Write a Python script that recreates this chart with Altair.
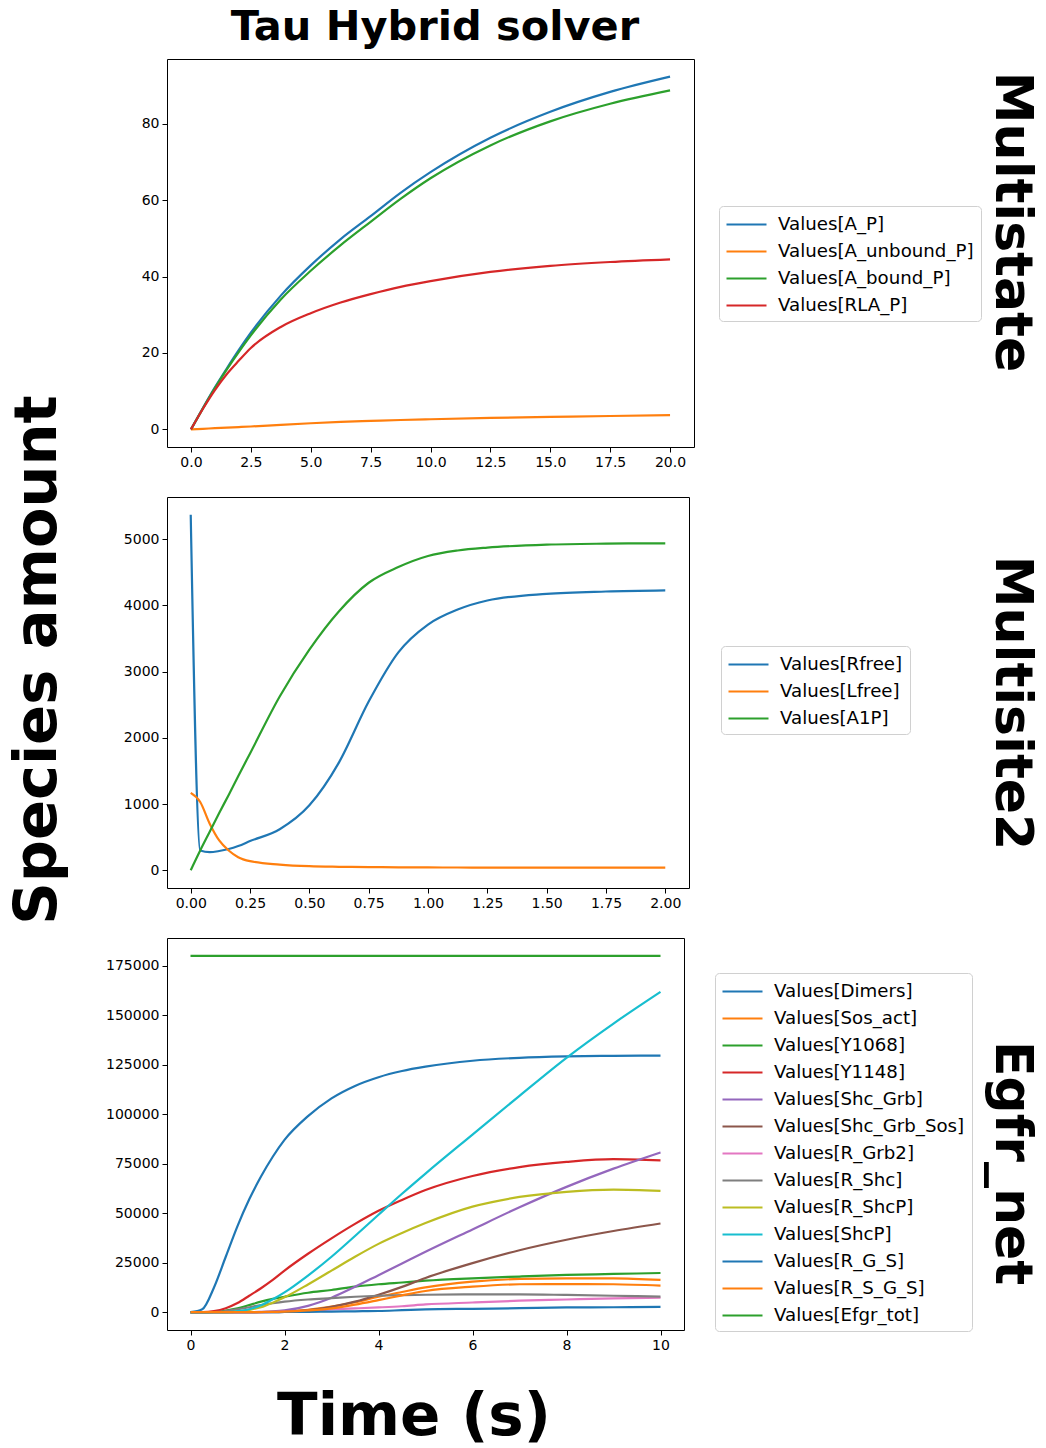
import altair as alt
import pandas as pd

TAB10 = ["#1f77b4", "#ff7f0e", "#2ca02c", "#d62728", "#9467bd",
         "#8c564b", "#e377c2", "#7f7f7f", "#bcbd22", "#17becf"]

# ---------------- Panel 1: Multistate ----------------
t1 = [0, 0.5, 1, 1.5, 2, 2.5, 3.75, 5, 6.25, 7.5, 8.75, 10, 12.5, 15, 17.5, 20]
ms_names = ["Values[A_P]", "Values[A_unbound_P]", "Values[A_bound_P]", "Values[RLA_P]"]
ms_A_P = [0, 5.6, 11.0, 16.0, 20.8, 25.3, 35.0, 42.9, 49.8, 55.8, 61.9, 67.3, 76.3, 83.1, 88.3, 92.3]
ms_A_unbound_P = [0, 0.15, 0.3, 0.45, 0.6, 0.75, 1.2, 1.6, 1.95, 2.2, 2.45, 2.65, 3.0, 3.25, 3.5, 3.7]
ms_A_bound_P = [0, 5.5, 10.8, 15.7, 20.3, 24.6, 34.0, 41.5, 48.2, 54.3, 60.3, 65.7, 74.3, 80.6, 85.2, 88.7]
ms_RLA_P = [0, 5.4, 10.3, 14.5, 18.0, 21.3, 26.8, 30.4, 33.2, 35.4, 37.3, 38.8, 41.2, 42.8, 43.8, 44.5]
ms_xticks = [0, 2.5, 5, 7.5, 10, 12.5, 15, 17.5, 20]
ms_yticks = [0, 20, 40, 60, 80]

# ---------------- Panel 2: Multisite2 ----------------
t2 = [0, 0.04, 0.08, 0.12, 0.16, 0.2, 0.25, 0.375, 0.5, 0.625, 0.75, 0.875,
      1.0, 1.125, 1.25, 1.5, 1.75, 2.0]
m2_names = ["Values[Rfree]", "Values[Lfree]", "Values[A1P]"]
m2_Rfree = [5370, 298, 273, 290, 320, 365, 440, 620, 981, 1630, 2548, 3291,
            3711, 3938, 4075, 4176, 4211, 4227]
m2_Lfree = [1168, 1031, 703, 450, 298, 197, 137, 86, 61, 52, 47, 44,
            42, 41, 40, 40, 40, 40]
m2_A1P = [0, 298, 581, 865, 1138, 1420, 1764, 2624, 3332, 3913, 4343, 4580,
          4747, 4830, 4874, 4919, 4934, 4939]
m2_xticks = [0, 0.25, 0.5, 0.75, 1.0, 1.25, 1.5, 1.75, 2.0]
m2_yticks = [0, 1000, 2000, 3000, 4000, 5000]

# ---------------- Panel 3: Egfr_net ----------------
t3 = [0, 0.25, 0.5, 0.75, 1, 1.25, 1.5, 1.75, 2, 2.5, 3, 3.5, 4, 4.5, 5, 6, 7, 8, 9, 10]
eg_names = ["Values[Dimers]", "Values[Sos_act]", "Values[Y1068]", "Values[Y1148]",
            "Values[Shc_Grb]", "Values[Shc_Grb_Sos]", "Values[R_Grb2]", "Values[R_Shc]",
            "Values[R_ShcP]", "Values[ShcP]", "Values[R_G_S]", "Values[R_S_G_S]",
            "Values[Efgr_tot]"]
eg_Dimers = [0, 1500, 12500, 28000, 43500, 57000, 68500, 78500, 87000, 99000, 108000,
             114300, 118700, 121800, 124000, 127000, 128500, 129200, 129500, 129600]
eg_Sos_act = [0, 0, 0, 0, 0, 0, 100, 200, 400, 1200, 2800, 5000, 7800, 10200, 12500,
              15400, 16800, 17100, 17100, 16300]
eg_Y1068 = [0, 0, 100, 800, 1900, 3600, 5300, 6700, 7800, 9800, 11200, 12900, 14100,
            15000, 15900, 17100, 18000, 18800, 19300, 19800]
eg_Y1148 = [0, 0, 500, 2000, 4600, 8300, 12100, 16300, 21000, 29500, 37300, 44600,
            51200, 56700, 61700, 68800, 73300, 75900, 77300, 76700]
eg_Shc_Grb = [0, 0, 0, 0, 0, 0, 150, 400, 900, 3200, 7300, 12800, 18700, 24600, 30500,
              41800, 53000, 63300, 72500, 80700]
eg_Shc_Grb_Sos = [0, 0, 0, 0, 0, 0, 0, 50, 200, 1000, 2700, 5300, 8800, 12800, 17300,
                  24800, 31300, 36600, 41000, 44800]
eg_R_Grb2 = [0, 0, 0, 0, 0, 0, 0, 100, 300, 700, 1400, 1900, 2400, 3000, 3900, 4900,
             5800, 6400, 7000, 7300]
eg_R_Shc = [0, 0, 100, 600, 1400, 2500, 3600, 4500, 5300, 6400, 7100, 7800, 8300, 8600,
            8800, 9000, 9000, 8700, 8300, 7900]
eg_R_ShcP = [0, 0, 0, 0, 300, 1200, 2500, 4800, 7500, 14000, 21000, 28000, 34500, 40000,
             45000, 53300, 58200, 60800, 61900, 61300]
eg_ShcP = [0, 0, 0, 0, 500, 1500, 3500, 6500, 10000, 18500, 28000, 38500, 49200, 59800,
           70000, 89700, 109300, 128500, 145800, 161800]
eg_R_G_S = [0, 0, 0, 0, 0, 0, 0, 50, 100, 200, 300, 450, 600, 1000, 1400, 1700, 2000,
            2400, 2500, 2700]
eg_R_S_G_S = [0, 0, 0, 0, 0, 0, 50, 150, 300, 900, 1900, 3800, 6100, 8500, 10700, 12900,
              14100, 14200, 14100, 13400]
eg_Efgr_tot = [180000, 180000, 180000, 180000, 180000, 180000, 180000, 180000, 180000,
               180000, 180000, 180000, 180000, 180000, 180000, 180000, 180000, 180000,
               180000, 180000]
eg_xticks = [0, 2, 4, 6, 8, 10]
eg_yticks = [0, 25000, 50000, 75000, 100000, 125000, 150000, 175000]

FONT = "DejaVu Sans"


def long_df(t, names, series):
    rows = []
    for k, (name, vals) in enumerate(zip(names, series)):
        for ti, v in zip(t, vals):
            rows.append({"time": ti, "value": v, "series": name, "k": k})
    return pd.DataFrame(rows)


def pad_domain(series):
    lo = min(min(s) for s in series)
    hi = max(max(s) for s in series)
    m = 0.05 * (hi - lo)
    return [lo - m, hi + m]


def text_layer(label, x, y, size, angle=0, baseline="middle"):
    kw = dict(fontSize=size, fontWeight="bold", font=FONT, align="center",
              baseline=baseline, color="black")
    if angle:
        kw["angle"] = angle
    return alt.Chart(pd.DataFrame({"lab": [label]})).mark_text(**kw).encode(
        text="lab:N", x=alt.value(x), y=alt.value(y))


def panel(t, names, series, xdom, xticks, xfmt, yticks, width, height,
          lx, ly, label, label_y, extras):
    df = long_df(t, names, series)
    colors = [TAB10[i % 10] for i in range(len(names))]
    lines = alt.Chart(df).mark_line(strokeWidth=2.2, interpolate="monotone").encode(
        x=alt.X("time:Q",
                scale=alt.Scale(domain=xdom, nice=False, zero=False),
                axis=alt.Axis(values=xticks, format=xfmt, title=None)),
        y=alt.Y("value:Q",
                scale=alt.Scale(domain=pad_domain(series), nice=False, zero=False),
                axis=alt.Axis(values=yticks, format="d", title=None)),
        color=alt.Color("series:N", title=None,
                        scale=alt.Scale(domain=names, range=colors),
                        legend=alt.Legend(orient="none", legendX=lx, legendY=ly)),
        order=alt.Order("time:Q"),
    )
    lab = text_layer(label, 845, label_y, 52, angle=90)
    return alt.layer(lines, lab, *extras).properties(width=width, height=height)


p1 = panel(t1, ms_names, [ms_A_P, ms_A_unbound_P, ms_A_bound_P, ms_RLA_P],
           [-1, 21], ms_xticks, ".1f", ms_yticks, 527, 388,
           552, 147, "Multistate", 163,
           [text_layer("Tau Hybrid solver", 268, -19, 41.5, baseline="alphabetic")])

p2 = panel(t2, m2_names, [m2_Rfree, m2_Lfree, m2_A1P],
           [-0.1, 2.1], m2_xticks, ".2f", m2_yticks, 522, 391,
           554, 149, "Multisite2", 206,
           [text_layer("Species amount", -129, 163, 59, angle=270)])

p3 = panel(t3, eg_names, [eg_Dimers, eg_Sos_act, eg_Y1068, eg_Y1148, eg_Shc_Grb,
                          eg_Shc_Grb_Sos, eg_R_Grb2, eg_R_Shc, eg_R_ShcP, eg_ShcP,
                          eg_R_G_S, eg_R_S_G_S, eg_Efgr_tot],
           [-0.5, 10.5], eg_xticks, "d", eg_yticks, 517, 392,
           548, 35, "Egfr_net", 225,
           [text_layer("Time (s)", 247, 497, 59.5, baseline="alphabetic")])

chart = alt.vconcat(p1, p2, p3, spacing=50, bounds="flush").resolve_scale(
    color="independent"
).resolve_legend(
    color="independent"
).properties(
    padding={"left": 8, "top": 6, "right": 0, "bottom": 0},
    background="white",
).configure_view(
    stroke="black", strokeWidth=1
).configure_axis(
    domain=False, grid=False, labelFont=FONT, labelFontSize=14, labelColor="black",
    tickColor="black", tickSize=5, tickWidth=1, labelPadding=3
).configure_legend(
    symbolType="M-2,0H2", symbolSize=400, symbolStrokeWidth=2.2, symbolOffset=9,
    labelOffset=20, rowPadding=7, padding=7, labelFont=FONT, labelFontSize=18.2,
    labelColor="black", strokeColor="#d0d0d0", cornerRadius=4, fillColor="white",
    labelLimit=400
)

chart.save("out.html", embed_options={"renderer": "svg", "actions": False})
